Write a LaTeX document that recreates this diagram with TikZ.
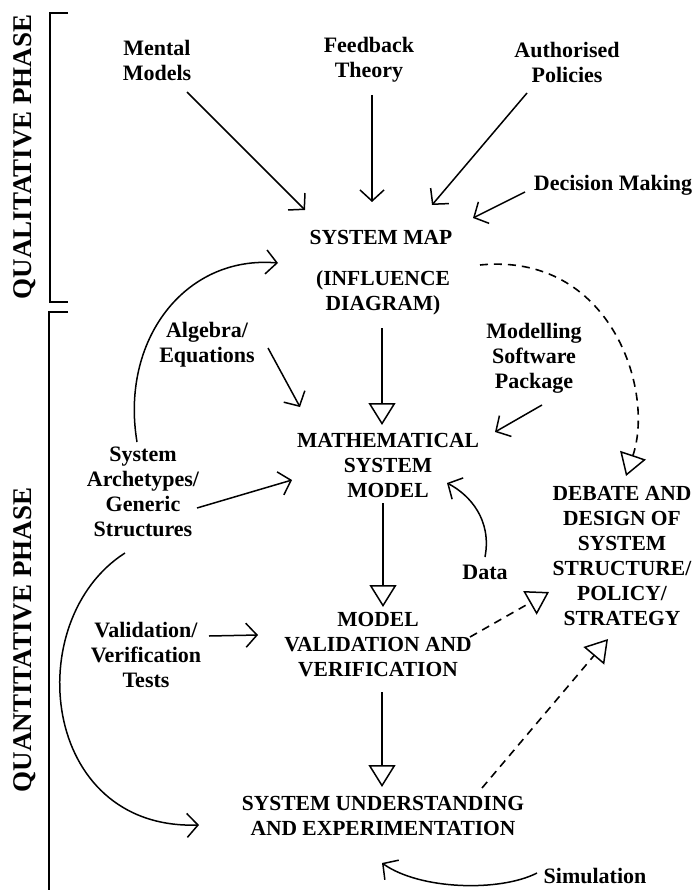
\documentclass[tikz,border=0pt]{standalone}
\usepackage{fontspec}
\setmainfont{Liberation Serif}
\usetikzlibrary{arrows.meta,calc}
\newcommand\lblfont{\bfseries\fontsize{22}{25}\selectfont}
\newcommand\capfont{\bfseries\fontsize{21.5}{25}\selectfont}
\newcommand\phasefont{\bfseries\fontsize{27}{30}\selectfont}
\tikzset{
  lab/.style={font=\lblfont, align=center, inner sep=0pt},
  stagetext/.style={font=\capfont, align=center, inner sep=0pt},
  phase/.style={font=\phasefont, inner sep=0pt, rotate=90},
  bracket/.style={line width=1.6pt},
  feed/.style={line width=1.5pt, -{Straight Barb[length=11pt,width=24pt,line width=1.5pt]}},
  flow/.style={line width=1.3pt, -{Triangle[open,length=22pt,width=27pt,line width=1.5pt]}},
  dflow/.style={flow, line width=1.6pt, dash pattern=on 8pt off 6pt},
}
\begin{document}
\begin{tikzpicture}[x=1pt,y=-1pt]
\fill[white] (0,0) rectangle (698,890);
\useasboundingbox (0,0) rectangle (698,890);

% phase labels and their brackets
\node[phase] (qual) at (25,157) {QUALITATIVE PHASE};
\node[phase] (quant) at (25,640) {QUANTITATIVE PHASE};
\draw[bracket] (68,13) -- (50,13) -- (50,302) -- (68,302);
\draw[bracket] (68,312) -- (49,312) -- (49,890);

% inputs to the system map
\node[lab] (mm) at (157,60) {Mental\\Models};
\node[lab] (ft) at (369,60) {Feedback\\Theory};
\node[lab] (ap) at (567,62) {Authorised\\Policies};
\node[lab] (dm) at (613,185) {Decision Making};

% main stages
\node[stagetext] (smap) at (381,237) {SYSTEM MAP};
\node[stagetext] (infl) at (383,293) {(INFLUENCE\\DIAGRAM)};
\node[stagetext] (msm) at (388,465) {MATHEMATICAL\\SYSTEM\\MODEL};
\node[stagetext] (mvv) at (378,645) {MODEL\\VALIDATION AND\\VERIFICATION};
\node[stagetext] (sue) at (383,816) {SYSTEM UNDERSTANDING\\AND EXPERIMENTATION};
\node[stagetext] (deb) at (622,556) {DEBATE AND\\DESIGN OF\\SYSTEM\\STRUCTURE/\\POLICY/\\STRATEGY};

% supporting inputs
\node[lab] (alg) at (207,345) {Algebra/\\Equations};
\node[lab] (msp) at (534,358) {Modelling\\Software\\Package};
\node[lab] (arch) at (143,492) {System\\Archetypes/\\Generic\\Structures};
\node[lab] (data) at (485,572) {Data};
\node[lab] (vvt) at (146,655) {Validation/\\Verification\\Tests};
\node[lab] (sim) at (595,876) {Simulation};

% qualitative inputs
\draw[feed] ($(mm)+(30,32)$) -- ($(smap)+(-76,-27)$);
\draw[feed] ($(ft)+(3,35)$) -- ($(smap)+(-9,-35)$);
\draw[feed] ($(ap)+(-40,31)$) -- ($(smap)+(51,-32)$);
\draw[feed] ($(dm)+(-88,7)$) -- ($(smap)+(92,-19)$);

% archetypes feed the map, the model and the experiments
\draw[feed] ($(arch)+(-6,-50)$) .. controls (120,340) and (185,255) .. ($(smap)+(-103,26)$);
\draw[feed] ($(arch)+(54,16)$) -- ($(msm)+(-96,15)$);
\draw[feed] ($(arch)+(-18,61)$) .. controls (20,620) and (40,830) .. ($(sue)+(-184,9)$);

% inputs to the mathematical model
\draw[feed] ($(alg)+(61,3)$) -- ($(msm)+(-88,-58)$);
\draw[feed] ($(msp)+(8,47)$) -- ($(msm)+(107,-33)$);
\draw[feed] ($(data)+(0,-15)$) .. controls (492,520) and (470,495) .. ($(msm)+(59,18)$);

% tests and simulation
\draw[feed] ($(vvt)+(63,-19)$) -- ($(mvv)+(-120,-10)$);
\draw[feed] ($(sim)+(-58,-3)$) .. controls (500,892) and (420,890) .. ($(sue)+(-1,47)$);

% main sequence
\draw[flow] ($(infl)+(-1,35)$) -- ($(msm)+(-6,-40)$);
\draw[flow] ($(msm)+(-5,38)$) -- ($(mvv)+(5,-38)$);
\draw[flow] ($(mvv)+(4,47)$) -- ($(sue)+(-1,-29)$);

% links to debate and design
\draw[dflow] ($(infl)+(97,-28)$) .. controls (610,252) and (655,390) .. ($(deb)+(4,-80)$);
\draw[dflow] ($(mvv)+(92,-8)$) -- ($(deb)+(-73,36)$);
\draw[dflow] ($(sue)+(99,-28)$) -- ($(deb)+(-14,83)$);
\end{tikzpicture}
\end{document}
